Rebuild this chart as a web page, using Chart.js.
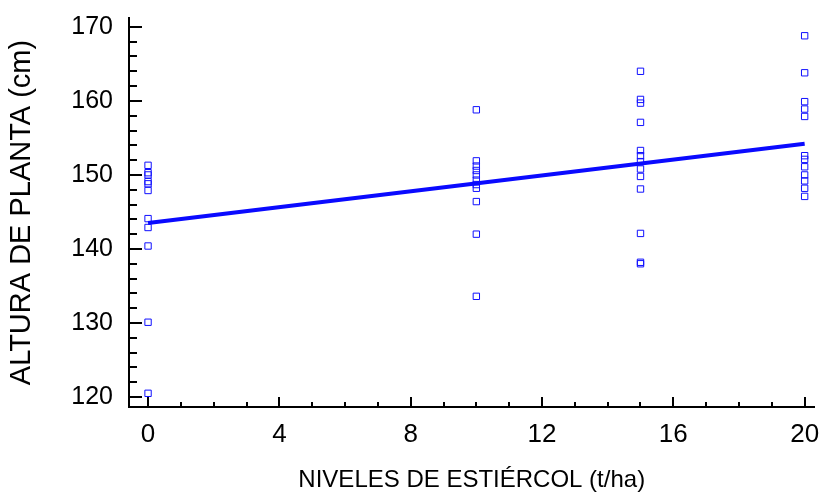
<!DOCTYPE html>
<html>
<head>
    <title>Altura de planta</title>
    <script src="https://cdn.jsdelivr.net/npm/chart.js"></script>
    <style>
        body {
            margin: 0;
            background: #ffffff;
        }
    </style>
</head>
<body>
    <canvas id="chart" width="820" height="495"></canvas>

    <script>
        // manure levels (t/ha) and measured plant heights (cm)
        const levels = [0, 10, 15, 20];
        const heights0 = [151.3, 150.3, 150.0, 149.1, 148.8, 147.9, 144.1, 142.9, 140.4, 130.1, 120.5];
        const heights10 = [158.8, 151.9, 151.2, 150.6, 150.0, 149.3, 148.7, 148.2, 146.4, 142.0, 133.6];
        const heights15 = [164.0, 160.2, 159.7, 157.1, 153.3, 152.6, 151.8, 150.8, 149.8, 148.1, 142.1, 138.2, 138.0];
        const heights20 = [168.8, 163.8, 159.9, 158.9, 157.9, 152.6, 152.1, 151.1, 150.0, 149.2, 148.2, 147.1];

        // fitted line
        const fitX = [0, 20];
        const fitY = [143.5, 154.2];

        const xTicks = [0, 4, 8, 12, 16, 20];
        const yTicks = [120, 130, 140, 150, 160, 170];

        const groups = [heights0, heights10, heights15, heights20];
        const points = [];
        groups.forEach((g, i) => g.forEach(h => points.push({ x: levels[i], y: h })));
        const fitLine = fitX.map((x, i) => ({ x: x, y: fitY[i] }));

        // ticks drawn inward from the axes, major and minor
        const innerTicks = {
            id: 'innerTicks',
            afterDraw(chart) {
                const ctx = chart.ctx;
                const xs = chart.scales.x, ys = chart.scales.y;
                const left = chart.chartArea.left, bottom = chart.chartArea.bottom;
                ctx.save();
                ctx.strokeStyle = '#000';
                ctx.lineWidth = 2;
                ctx.beginPath();
                for (let v = 0; v <= 20; v++) {
                    const px = Math.round(xs.getPixelForValue(v));
                    const len = v % 4 === 0 ? 10 : 5;
                    ctx.moveTo(px, bottom);
                    ctx.lineTo(px, bottom - len);
                }
                for (let v = 120; v <= 170; v += 2) {
                    const py = Math.round(ys.getPixelForValue(v));
                    const len = v % 10 === 0 ? 13 : 8;
                    ctx.moveTo(left, py);
                    ctx.lineTo(left + len, py);
                }
                ctx.stroke();
                ctx.restore();
            }
        };

        function noPad(s) {
            s.paddingTop = 0;
            s.paddingBottom = 0;
            s.paddingLeft = 0;
            s.paddingRight = 0;
        }

        new Chart(document.getElementById('chart'), {
            type: 'scatter',
            data: {
                datasets: [{
                    type: 'line',
                    data: fitLine,
                    showLine: true,
                    borderColor: '#0a0aff',
                    borderWidth: 4,
                    pointRadius: 0,
                    fill: false
                }, {
                    data: points,
                    pointStyle: 'rect',
                    pointRadius: 4.5,
                    borderWidth: 1,
                    borderColor: '#1010ff',
                    backgroundColor: 'rgba(0,0,0,0)'
                }]
            },
            options: {
                responsive: false,
                animation: false,
                layout: { padding: { top: 18, left: 0, right: 0, bottom: 0 } },
                plugins: {
                    legend: { display: false },
                    tooltip: { enabled: false }
                },
                scales: {
                    x: {
                        type: 'linear',
                        min: -0.58,
                        max: 20.3,
                        afterBuildTicks: s => { s.ticks = xTicks.map(v => ({ value: v })); },
                        afterFit: s => { s.height = 88; noPad(s); },
                        grid: { display: false, drawTicks: false },
                        border: { display: true, color: '#000', width: 2 },
                        ticks: {
                            padding: 12,
                            color: '#000',
                            font: { family: 'Liberation Sans', size: 26 }
                        },
                        title: {
                            display: true,
                            text: 'NIVELES DE ESTIÉRCOL (t/ha)',
                            color: '#000',
                            padding: { top: 0, bottom: 0 },
                            font: { family: 'Liberation Sans', size: 24 }
                        }
                    },
                    y: {
                        min: 118.65,
                        max: 171.2,
                        afterBuildTicks: s => { s.ticks = yTicks.map(v => ({ value: v })); },
                        afterFit: s => { s.width = 129; noPad(s); },
                        grid: { display: false, drawTicks: false },
                        border: { display: true, color: '#000', width: 2 },
                        ticks: {
                            padding: 16,
                            color: '#000',
                            font: { family: 'Liberation Sans', size: 25 }
                        },
                        title: {
                            display: true,
                            text: 'ALTURA DE PLANTA (cm)',
                            color: '#000',
                            padding: { top: 5, bottom: 0 },
                            font: { family: 'Liberation Sans', size: 29 }
                        }
                    }
                }
            },
            plugins: [innerTicks]
        });
    </script>
</body>
</html>
